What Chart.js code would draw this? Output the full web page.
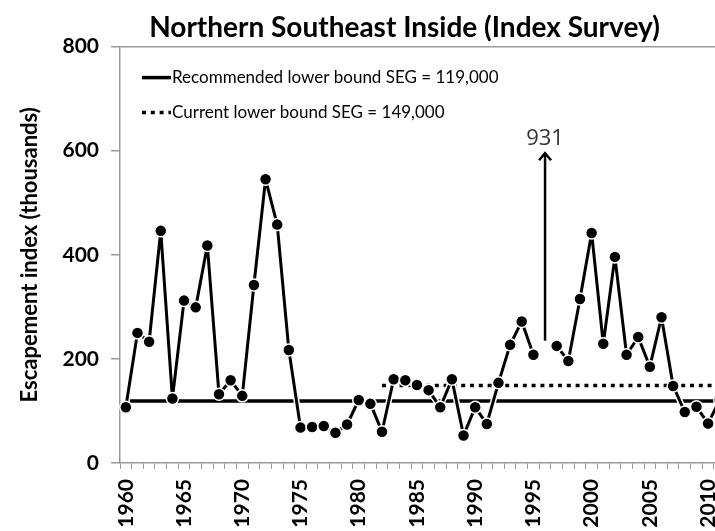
<!DOCTYPE html>
<html>
<head>
<meta charset="utf-8">
<script src="https://cdn.jsdelivr.net/npm/chart.js@4"></script>
<style>
  html, body { margin: 0; padding: 0; background: #fff; overflow: hidden; }
  #wrap { width: 755px; height: 531px; }
</style>
</head>
<body>
<div id="wrap"><canvas id="grafico"></canvas></div>
<script>
// Years on the category axis
const anios = ['1960', '1961', '1962', '1963', '1964', '1965', '1966', '1967', '1968', '1969',
               '1970', '1971', '1972', '1973', '1974', '1975', '1976', '1977', '1978', '1979',
               '1980', '1981', '1982', '1983', '1984', '1985', '1986', '1987', '1988', '1989',
               '1990', '1991', '1992', '1993', '1994', '1995', '1996', '1997', '1998', '1999',
               '2000', '2001', '2002', '2003', '2004', '2005', '2006', '2007', '2008', '2009',
               '2010', '2011'];

// Escapement index (thousands); 1996 is off the scale (931) -> drawn as an arrow
const escapement = [107, 250, 233, 446, 124, 312, 299, 418, 132, 159,
                    129, 342, 545, 458, 217, 68, 69, 71, 58, 74,
                    121, 114, 60, 161, 159, 150, 140, 107, 161, 53,
                    107, 75, 154, 227, 272, 208, null, 225, 196, 315,
                    442, 229, 396, 208, 242, 185, 280, 148, 98, 108,
                    76, 121];

const segRecomendado = 119;
const segActual = 149;
const segActualDesde = '1982';

const fueraEscalaAnio = '1996';
const fueraEscalaValor = 931;
const flechaDesde = 235;
const flechaHasta = 597;

const yMin = 0, yMax = 800, yPaso = 200;

const inicioActual = anios.indexOf(segActualDesde);
const lineaRecomendada = anios.map(() => segRecomendado);
const lineaActual = anios.map((a, i) => i >= inicioActual ? segActual : null);

const FUENTE = 'Lato';

// legend drawn inside the plot area, top-left
const leyenda = {
    id: 'leyenda',
    afterDraw(chart) {
        const ctx = chart.ctx;
        const a = chart.chartArea;
        [chart.data.datasets[2], chart.data.datasets[3]].forEach((ds, i) => {
            const y = a.top + 31 + i * 35;
            ctx.save();
            ctx.strokeStyle = ds.borderColor;
            ctx.lineWidth = ds.borderWidth;
            ctx.setLineDash(ds.borderDash || []);
            ctx.beginPath();
            ctx.moveTo(a.left + 22, y);
            ctx.lineTo(a.left + 51, y);
            ctx.stroke();
            ctx.setLineDash([]);
            ctx.fillStyle = '#000';
            ctx.font = '17px ' + FUENTE;
            ctx.textBaseline = 'middle';
            ctx.fillText(ds.label, a.left + 52, y);
            ctx.restore();
        });
    }
};

// arrow for the off-scale year
const flecha = {
    id: 'flecha',
    afterDatasetsDraw(chart) {
        const ctx = chart.ctx;
        const x = chart.scales.x.getPixelForValue(anios.indexOf(fueraEscalaAnio));
        const y0 = chart.scales.y.getPixelForValue(flechaDesde);
        const y1 = chart.scales.y.getPixelForValue(flechaHasta);
        ctx.save();
        ctx.strokeStyle = '#000';
        ctx.lineWidth = 2.5;
        ctx.beginPath();
        ctx.moveTo(x, y0);
        ctx.lineTo(x, y1 + 1);
        ctx.stroke();
        ctx.beginPath();
        ctx.moveTo(x - 6, y1 + 8);
        ctx.lineTo(x, y1 + 1);
        ctx.lineTo(x + 6, y1 + 8);
        ctx.stroke();
        ctx.fillStyle = '#333';
        ctx.font = '22px "Open Sans"';
        ctx.textAlign = 'center';
        ctx.textBaseline = 'bottom';
        ctx.fillText(String(fueraEscalaValor), x, y1 - 3);
        ctx.restore();
    }
};

// title is centred a bit right of the canvas centre in the original
const tituloDesplazado = {
    id: 'tituloDesplazado',
    afterLayout(chart) {
        chart.titleBlock.left += 27;
        chart.titleBlock.right += 27;
    }
};

new Chart(document.getElementById('grafico'), {
    type: 'line',
    data: {
        labels: anios,
        datasets: [{
            label: 'Escapement index',
            data: escapement,
            borderColor: '#000',
            borderWidth: 3,
            borderJoinStyle: 'round',
            pointRadius: 6,
            pointBackgroundColor: '#000',
            pointBorderColor: '#fff',
            pointBorderWidth: 1.5,
            spanGaps: false,
            tension: 0,
            order: 0
        }, {
            label: 'halo',
            data: escapement,
            borderColor: '#fff',
            borderWidth: 6,
            borderJoinStyle: 'round',
            pointRadius: 0,
            spanGaps: false,
            order: 1
        }, {
            label: 'Recommended lower bound SEG = 119,000',
            data: lineaRecomendada,
            borderColor: '#000',
            borderWidth: 3.5,
            pointRadius: 0,
            order: 2
        }, {
            label: 'Current lower bound SEG = 149,000',
            data: lineaActual,
            borderColor: '#000',
            borderWidth: 3.5,
            borderDash: [4, 4.8],
            pointRadius: 0,
            order: 3
        }]
    },
    options: {
        responsive: true,
        maintainAspectRatio: false,
        animation: false,
        layout: { padding: 0 },
        plugins: {
            legend: { display: false },
            tooltip: { enabled: false },
            title: {
                display: true,
                text: 'Northern Southeast Inside (Index Survey)',
                color: '#000',
                font: { family: FUENTE, size: 28, weight: 'bold' },
                padding: { top: 11, bottom: 2 }
            }
        },
        scales: {
            x: {
                type: 'category',
                offset: true,
                grid: { drawOnChartArea: false, offset: true, color: '#999', tickLength: 6 },
                border: { display: true, color: '#999', width: 1.5 },
                ticks: {
                    autoSkip: false,
                    maxRotation: 90,
                    minRotation: 90,
                    padding: 10,
                    color: '#000',
                    font: { family: FUENTE, size: 21, weight: 'bold' },
                    callback: function (value) {
                        const anio = this.getLabelForValue(value);
                        return Number(anio) % 5 === 0 ? anio : '';
                    }
                },
                afterFit: (scale) => { scale.height = 68; }
            },
            y: {
                min: yMin,
                max: yMax,
                ticks: {
                    stepSize: yPaso,
                    padding: 12,
                    color: '#000',
                    font: { family: FUENTE, size: 21, weight: 'bold' }
                },
                grid: {
                    color: (c) => c.tick && c.tick.value === yMax ? '#999' : 'rgba(0,0,0,0)',
                    tickColor: '#999',
                    tickLength: 9,
                    lineWidth: 1.5
                },
                border: { display: true, color: '#999', width: 1.5 },
                title: {
                    display: true,
                    text: 'Escapement index (thousands)',
                    color: '#000',
                    font: { family: FUENTE, size: 22, weight: 'bold' },
                    padding: { top: 17, bottom: 2 }
                },
                afterFit: (scale) => { scale.width = 120; }
            }
        }
    },
    plugins: [tituloDesplazado, flecha, leyenda]
});
</script>
</body>
</html>
